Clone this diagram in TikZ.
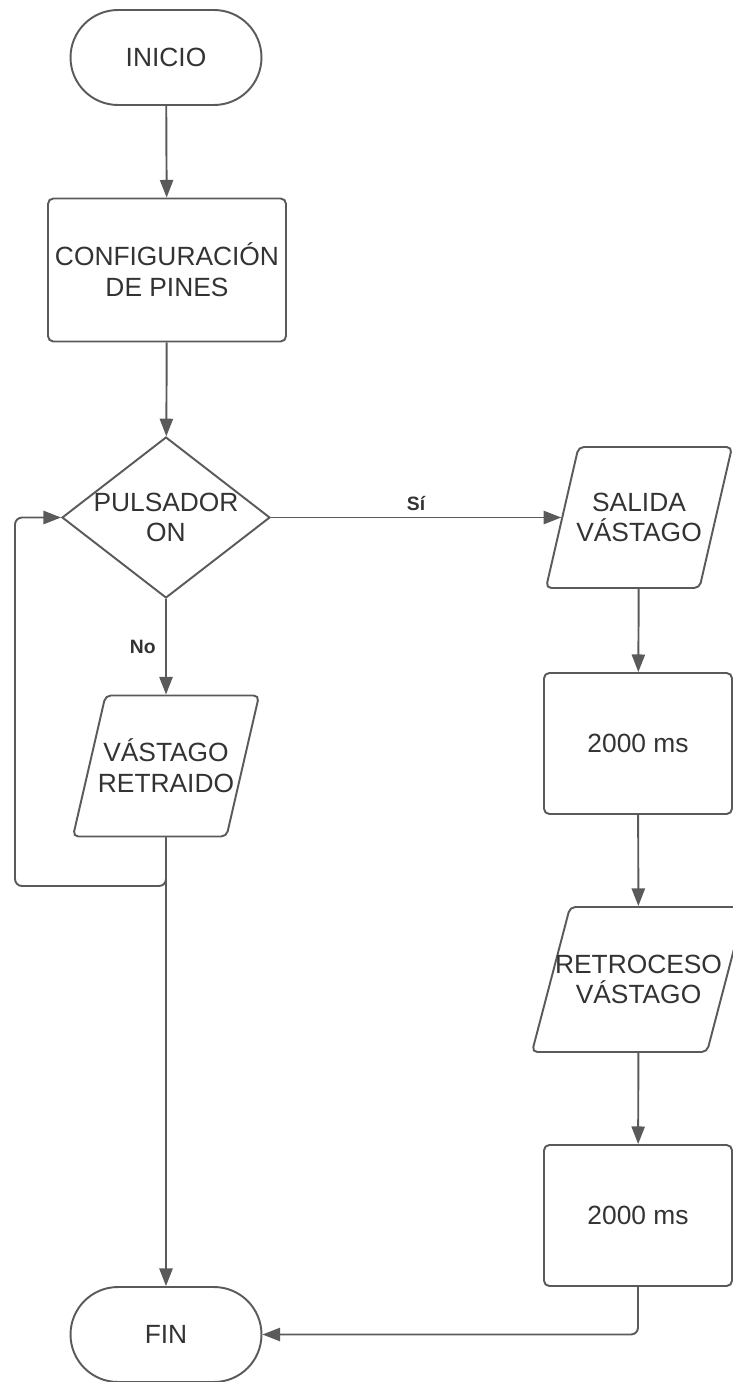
\documentclass[tikz,border=0pt]{standalone}
\usepackage{fontspec}
\setmainfont{Liberation Sans}
\usetikzlibrary{arrows.meta,shapes.geometric}
\definecolor{linea}{HTML}{5A5A5A}
\definecolor{texto}{HTML}{333333}

\begin{document}
\begin{tikzpicture}[x=.02cm,y=-.02cm,
	every node/.style={text=texto,font=\fontsize{15}{17.5}\selectfont,align=center},
	base/.style={draw=linea,line width=1.1pt},
	term/.style={base,rectangle,rounded corners=.95cm,minimum width=3.82cm,minimum height=1.9cm},
	proc/.style={base,rectangle,rounded corners=3pt,minimum width=3.76cm,minimum height=2.82cm},
	decis/.style={base,diamond,inner sep=0pt,minimum width=4.16cm,minimum height=3.22cm},
	datos/.style={base,trapezium,trapezium left angle=77,trapezium right angle=103,inner sep=0pt,rounded corners=3pt,text width=2.42cm,text height=1.41cm,text depth=1.41cm},
	flecha/.style={draw=linea,line width=1.1pt,-{Triangle[length=10pt,width=7.5pt]}},
	etq/.style={font=\fontsize{11}{13}\bfseries\selectfont}]
	\useasboundingbox (0,0) rectangle (733,1382);
	
	% columna izquierda
	\node[term] (ini) at (166,57.5) {INICIO};
	\node[proc,minimum width=4.76cm,minimum height=2.86cm] (cfg) at (167,270) {CONFIGURACIÓN\\DE PINES};
	\node[decis,label={center:PULSADOR\\ON}] (dec) at (166,517.5) {};
	\node[datos,label={center:VÁSTAGO\\RETRAIDO}] (ret) at (166,766) {};
	\node[term] (fin) at (166,1334.5) {FIN};
	
	% columna derecha
	\node[datos,label={center:SALIDA\\VÁSTAGO}] (sal) at (639,517.5) {};
	\node[proc] (t1) at (638,743.5) {2000 ms};
	\node[datos,trapezium left angle=75.3,trapezium right angle=104.7,text width=2.74cm,text height=1.45cm,text depth=1.45cm,label={center:RETROCESO\\VÁSTAGO}] (rtr) at (638.5,979.5) {};
	\node[proc] (t2) at (638,1215.5) {2000 ms};
	
	\draw[flecha] (ini) -- (cfg);
	\draw[flecha] (cfg) -- (dec);
	\draw[flecha] (dec) -- node[etq,above]{Sí} (sal);
	\draw[flecha] (dec) -- node[etq,left=2pt]{No} (ret);
	\draw[flecha] (ret) -- (fin);
	\coordinate (vuelta) at (15,886);
	\draw[flecha,rounded corners=4pt] (ret) |- (vuelta) |- (dec);
	
	\draw[flecha] (sal) -- (t1);
	\draw[flecha] (t1) -- (rtr);
	\draw[flecha] (rtr) -- (t2);
	\draw[flecha,rounded corners=4pt] (t2) |- (fin);
\end{tikzpicture}
\end{document}
